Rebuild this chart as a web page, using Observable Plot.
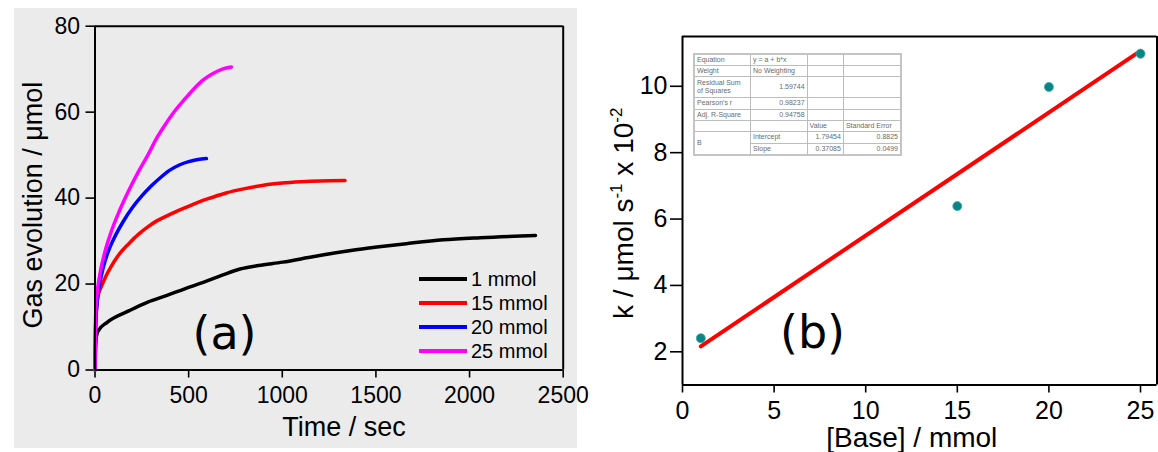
<!DOCTYPE html>
<html><head><meta charset="utf-8">
<script src="https://cdn.jsdelivr.net/npm/d3@7"></script>
<script src="https://cdn.jsdelivr.net/npm/@observablehq/plot@0.6"></script>
<style>
html,body{margin:0;padding:0;background:#fff;}
#wrap{position:relative;width:1158px;height:452px;overflow:hidden;font-family:"Liberation Sans",Arial,sans-serif;}
#bgA{position:absolute;left:14px;top:8px;width:563px;height:440px;background:#ebebeb;}
#left{position:absolute;left:0;top:0;width:580px;height:452px;}
#right{position:absolute;left:580px;top:0;width:578px;height:452px;}
#left svg,#right svg{max-width:none;overflow:visible;}
#legend{position:absolute;left:419px;top:267px;}
.lrow{height:24px;display:flex;align-items:center;}
.lline{width:48px;height:4px;margin-right:4px;}
.ltxt{font-size:20px;color:#000;line-height:24px;}
#stats{position:absolute;left:693px;top:53px;width:209px;table-layout:fixed;border-collapse:collapse;border:2px solid #c4c4c4;font-size:7px;color:#6a6a6a;background:rgba(255,255,255,0.9);}
#stats td{border:1px solid #bdbdbd;padding:0 2px;line-height:8px;vertical-align:middle;white-space:nowrap;overflow:hidden;}
#stats td.n{text-align:right;}
</style></head><body>
<div id="wrap"><div id="bgA"></div><div id="left"></div><div id="right"></div><div id="legend"></div><table id="stats"></table></div>
<script>
// ---------- Panel (a) data ----------
const seriesNames = ["1 mmol", "15 mmol", "20 mmol", "25 mmol"];
const seriesColors = ["#000000", "#ff0000", "#0000ff", "#ff00ff"];
const timeA1 = [0, 5, 15, 65, 183, 282, 381, 479, 578, 676, 775, 873, 1002, 1169, 1366, 1505, 1662, 1859, 2057, 2352];
const gasA1  = [0, 7, 9, 11.1, 13.8, 15.8, 17.3, 18.9, 20.4, 22.0, 23.5, 24.3, 25.1, 26.4, 27.8, 28.6, 29.4, 30.3, 30.8, 31.3];
const timeA15 = [0, 5, 15, 35, 60, 85, 130, 183, 230, 282, 330, 381, 430, 479, 550, 600, 700, 800, 900, 1000, 1100, 1200, 1335];
const gasA15  = [0, 12, 17, 19.5, 22, 24, 27, 29.5, 31.5, 33.3, 34.7, 35.8, 36.8, 37.7, 39, 39.8, 41.2, 42.2, 43, 43.5, 43.8, 44, 44.1];
const timeA20 = [0, 3, 10, 25, 45, 70, 100, 150, 200, 250, 300, 350, 400, 450, 500, 550, 595];
const gasA20  = [0, 10, 15, 20, 24, 27.5, 30.5, 34.5, 37.8, 40.5, 42.8, 44.8, 46.5, 47.7, 48.5, 49, 49.2];
const timeA25 = [0, 3, 10, 25, 50, 85, 130, 183, 230, 282, 330, 381, 430, 479, 530, 578, 630, 680, 728];
const gasA25  = [0, 12, 17, 22, 27, 32, 37, 42, 46, 50, 54, 57.5, 60.5, 63, 65.5, 67.5, 69, 70, 70.5];
const xDomainA = [0, 2500];
const yDomainA = [0, 80];
const xTicksA = [0, 500, 1000, 1500, 2000, 2500];
const yTicksA = [0, 20, 40, 60, 80];

// ---------- Panel (b) data ----------
const baseValues = [1, 15, 20, 25];
const kValues = [2.41, 6.39, 9.98, 10.98];
const fitIntercept = 1.79454, fitSlope = 0.37085;
const interceptErr = 0.8825, slopeErr = 0.0499;
const rss = 1.59744, pearsonR = 0.98237, adjR2 = 0.94758;
const xDomainB = [0, 25.9];
const yDomainB = [1, 11.5];
const xTicksB = [0, 5, 10, 15, 20, 25];
const yTicksB = [2, 4, 6, 8, 10];

const FONT = "Liberation Sans, Arial, sans-serif";
const LA = {w: 580, h: 452, ml: 94.5, mr: 17.3, mt: 25.7, mb: 82.5};
const LB = {w: 578, h: 452, ml: 102, mr: 1.5, mt: 36, mb: 67.5};

// frame box as rules at the scale domain edges
const boxMarks = (xd, yd, sw) => [
  Plot.ruleX(xd, {stroke: "#000", strokeWidth: sw}),
  Plot.ruleY(yd, {stroke: "#000", strokeWidth: sw})
];

// ---------- Panel (a) ----------
const pairsA = [[timeA1, gasA1], [timeA15, gasA15], [timeA20, gasA20], [timeA25, gasA25]];
const rowsA = [];
pairsA.forEach(([t, g], i) => t.forEach((tt, j) => rowsA.push({series: seriesNames[i], t: tt, g: g[j]})));

const plotA = Plot.plot({
  width: LA.w, height: LA.h,
  marginLeft: LA.ml, marginRight: LA.mr, marginTop: LA.mt, marginBottom: LA.mb,
  style: {background: "transparent", fontFamily: FONT, overflow: "visible"},
  x: {domain: xDomainA, label: null},
  y: {domain: yDomainA, label: null},
  color: {domain: seriesNames, range: seriesColors},
  marks: [
    Plot.axisX({ticks: xTicksA, tickSize: 8, tickPadding: 9, fontSize: 23, label: null, tickFormat: "d", strokeWidth: 1.6, stroke: "#000", fill: "#000"}),
    Plot.axisY({ticks: yTicksA, tickSize: 9, tickPadding: 6, fontSize: 23, label: null, strokeWidth: 1.6, stroke: "#000", fill: "#000"}),
    Plot.line(rowsA, {x: "t", y: "g", z: "series", stroke: "series", strokeWidth: 3.5, curve: "monotone-x"}),
    ...boxMarks(xDomainA, yDomainA, 2),
    Plot.text(["Time / sec"], {frameAnchor: "bottom", dx: 15, dy: 57, fontSize: 27, lineAnchor: "middle", fill: "#000"}),
    Plot.text(["Gas evolution / μmol"], {frameAnchor: "left", dx: -62, dy: 7, rotate: -90, fontSize: 27, textAnchor: "middle", lineAnchor: "middle", fill: "#000"}),
    Plot.text(["(a)"], {frameAnchor: "bottom-left", dx: 129.5, dy: -36, fontSize: 46, fontFamily: "DejaVu Sans", textAnchor: "middle", lineAnchor: "middle", fill: "#000"})
  ]
});
document.getElementById("left").appendChild(plotA);

// legend
const leg = document.getElementById("legend");
seriesNames.forEach((s, i) => {
  const r = document.createElement("div"); r.className = "lrow";
  const l = document.createElement("div"); l.className = "lline"; l.style.background = seriesColors[i];
  const t = document.createElement("span"); t.className = "ltxt"; t.textContent = s;
  r.appendChild(l); r.appendChild(t); leg.appendChild(r);
});

// ---------- Panel (b) ----------
const rowsB = baseValues.map((b, i) => ({b, k: kValues[i]}));
const fitX = d3.extent(baseValues);
const fitRows = fitX.map(x => ({b: x, k: fitIntercept + fitSlope * x}));

const yLabelB = (index, scales, values, dims) => {
  const cx = dims.marginLeft - 58;
  const cy = (dims.marginTop + dims.height - dims.marginBottom) / 2 + 3;
  const t = d3.create("svg:text")
    .attr("transform", `translate(${cx},${cy}) rotate(-90)`)
    .attr("text-anchor", "middle").attr("dy", "0.32em")
    .attr("font-size", 28).attr("font-family", FONT).attr("fill", "#000");
  t.append("tspan").text("k / μmol s");
  t.append("tspan").attr("font-size", 17).attr("dy", -11).text("-1");
  t.append("tspan").attr("dy", 11).text(" x 10");
  t.append("tspan").attr("font-size", 17).attr("dy", -11).text("-2");
  return t.node();
};

const plotB = Plot.plot({
  width: LB.w, height: LB.h,
  marginLeft: LB.ml, marginRight: LB.mr, marginTop: LB.mt, marginBottom: LB.mb,
  style: {background: "transparent", fontFamily: FONT, overflow: "visible"},
  x: {domain: xDomainB, label: null},
  y: {domain: yDomainB, label: null},
  marks: [
    Plot.axisX({ticks: xTicksB, tickSize: 8, tickPadding: 8, fontSize: 25, label: null, strokeWidth: 1.6, stroke: "#000", fill: "#000"}),
    Plot.axisY({ticks: yTicksB, tickSize: 12, tickPadding: 3, fontSize: 25, label: null, strokeWidth: 1.6, stroke: "#000", fill: "#000"}),
    ...boxMarks(xDomainB, yDomainB, 2),
    Plot.line(fitRows, {x: "b", y: "k", stroke: "#ff0000", strokeWidth: 4}),
    Plot.dot(rowsB, {x: "b", y: "k", r: 4.5, fill: "#0a8585", stroke: "#3aa8a8", strokeWidth: 0.8}),
    Plot.text(["[Base] / mmol"], {frameAnchor: "bottom", dx: -8, dy: 53, fontSize: 28, lineAnchor: "middle", fill: "#000"}),
    yLabelB,
    Plot.text(["(b)"], {frameAnchor: "bottom-left", dx: 130, dy: -51.5, fontSize: 46, fontFamily: "DejaVu Sans", textAnchor: "middle", lineAnchor: "middle", fill: "#000"})
  ]
});
document.getElementById("right").appendChild(plotB);

// stats table
const statsRows = [
  [["Equation"], ["y = a + b*x"], [""], [""]],
  [["Weight"], ["No Weighting"], [""], [""]],
  [["Residual Sum<br>of Squares"], [String(rss), "n"], [""], [""]],
  [["Pearson's r"], [String(pearsonR), "n"], [""], [""]],
  [["Adj. R-Square"], [String(adjR2), "n"], [""], [""]],
  [[""], [""], ["Value"], ["Standard Error"]],
  [["B", "", 2], ["Intercept"], [String(fitIntercept), "n"], [String(interceptErr), "n"]],
  [["Slope"], [String(fitSlope), "n"], [String(slopeErr), "n"]]
];
const rowH = [11, 11, 21, 12, 11, 11, 12, 12];
const colW = [56, 56, 36, 57];
const tbl = document.getElementById("stats");
const cg = document.createElement("colgroup");
colW.forEach(w => { const c = document.createElement("col"); c.style.width = w + "px"; cg.appendChild(c); });
tbl.appendChild(cg);
statsRows.forEach((row, ri) => {
  const tr = document.createElement("tr"); tr.style.height = rowH[ri] + "px";
  row.forEach((c) => {
    const td = document.createElement("td");
    td.innerHTML = c[0];
    if (c[1] === "n") td.className = "n";
    if (c[2]) td.rowSpan = c[2];
    tr.appendChild(td);
  });
  tbl.appendChild(tr);
});
</script>
</body></html>
